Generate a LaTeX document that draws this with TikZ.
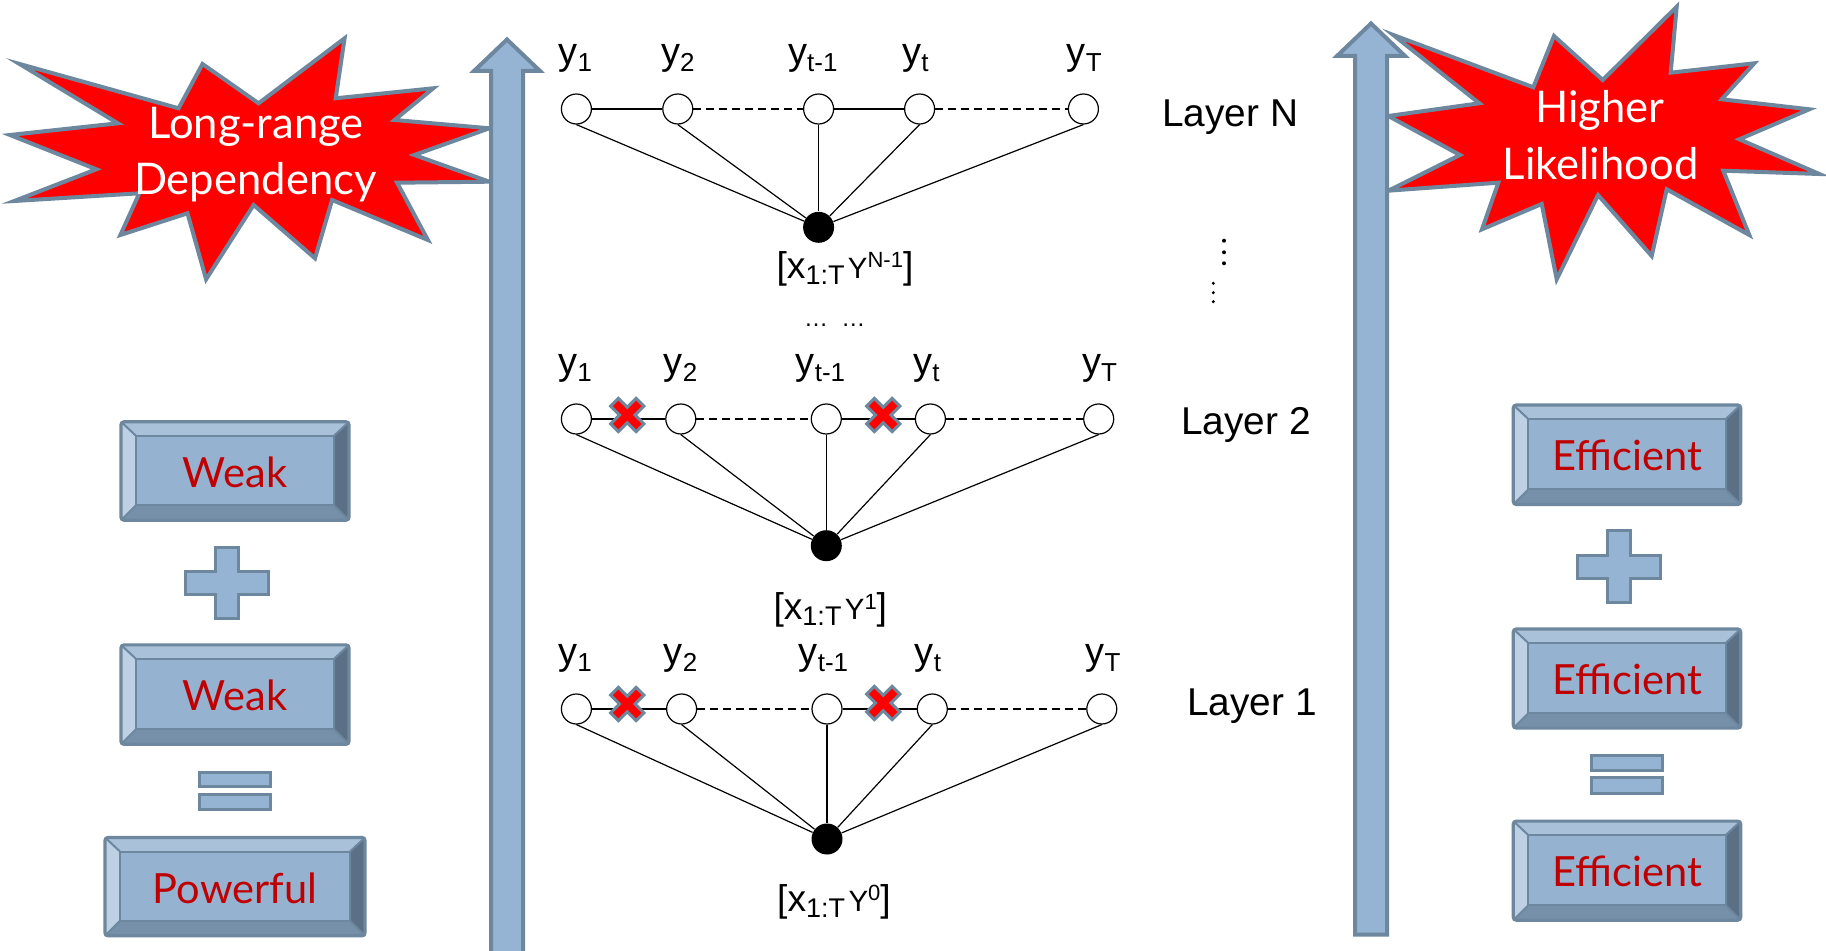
\documentclass[tikz,border=0pt]{standalone}
\usepackage{fontspec}
\setmainfont{Liberation Sans}
\newfontfamily\twfont{Lato}
\definecolor{arrfill}{HTML}{95B3D3}
\definecolor{arrline}{HTML}{6D879E}
\definecolor{bevc}{HTML}{95B3D0}
\definecolor{bevt}{HTML}{A9C2DA}
\definecolor{bevl}{HTML}{BED1E4}
\definecolor{bevr}{HTML}{5C7085}
\definecolor{bevb}{HTML}{7790A9}
\definecolor{txtred}{HTML}{C00000}
\newcommand{\ysub}[1]{y\raisebox{-3.5pt}{\fontsize{13}{13}\selectfont #1}}
\newcommand{\xlabtext}[1]{[x\raisebox{-2.8pt}{\fontsize{13.5}{13.5}\selectfont 1:T}\hspace{1.7pt}{\fontsize{14.7}{14.7}\selectfont Y}\raisebox{5.5pt}{\fontsize{11}{11}\selectfont #1}]}
\newcommand{\bevelbox}[6]{%
 \fill[bevc] (#1,#2) rectangle (#3,#4);
 \fill[bevt] (#1,#2) -- (#3,#2) -- ({#3-15},{#2+14}) -- ({#1+15},{#2+14}) -- cycle;
 \fill[bevb] (#1,#4) -- (#3,#4) -- ({#3-15},{#4-15}) -- ({#1+15},{#4-15}) -- cycle;
 \fill[bevl] (#1,#2) -- ({#1+15},{#2+14}) -- ({#1+15},{#4-15}) -- (#1,#4) -- cycle;
 \fill[bevr] (#3,#2) -- ({#3-15},{#2+14}) -- ({#3-15},{#4-15}) -- (#3,#4) -- cycle;
 \draw[bevedge] ({#1+15},{#2+14}) rectangle ({#3-15},{#4-15});
 \draw[bevedge] (#1,#2) -- ({#1+15},{#2+14}) (#3,#2) -- ({#3-15},{#2+14}) (#1,#4) -- ({#1+15},{#4-15}) (#3,#4) -- ({#3-15},{#4-15});
 \draw[bevouter] (#1,#2) rectangle (#3,#4);
 \node[boxtext] (#5) at ({(#1+#3)/2},{#2+65.5}) {#6};
}
\newcommand{\xmarkat}[2]{%
 \begin{scope}[shift={(#1,#2)}, rotate=45]
 \draw[xmark] (5.5,18) -- (5.5,5.5) -- (18,5.5) -- (18,-5.5) -- (5.5,-5.5) -- (5.5,-18) -- (-5.5,-18) -- (-5.5,-5.5) -- (-18,-5.5) -- (-18,5.5) -- (-5.5,5.5) -- (-5.5,18) -- cycle;
 \end{scope}
}
\tikzset{
 gnode/.style={circle, draw, line width=0.6pt, minimum size=15pt, inner sep=0pt, fill=white},
 xnode/.style={circle, fill=black, minimum size=15.5pt, inner sep=0pt},
 gline/.style={line width=0.6pt},
 gdash/.style={line width=0.6pt, dash pattern=on 4pt off 2.5pt},
 ylab/.style={anchor=base, inner sep=0pt, font=\fontsize{19}{21}\selectfont},
 xlab/.style={anchor=base, inner sep=0pt, font=\fontsize{18.6}{20}\selectfont},
 laylab/.style={anchor=base west, inner sep=0pt, font=\fontsize{19.4}{22}\selectfont},
 arrowbody/.style={fill=arrfill, draw=arrline, line width=2pt, line join=miter},
 burstshape/.style={fill=red, draw=arrline, line width=2pt, line join=miter},
 bursttext/.style={anchor=base, inner sep=0pt, text=white, font=\twfont\fontsize{21.8}{24}\selectfont},
 boxtext/.style={anchor=base, inner sep=0pt, text=txtred, font=\twfont\fontsize{20.8}{24}\selectfont},
 bevedge/.style={draw=arrline, line width=1pt},
 bevouter/.style={draw=arrline, line width=1.6pt, rounded corners=1.5pt},
 opshape/.style={fill=arrfill, draw=arrline, line width=1.5pt},
 xmark/.style={fill=red, draw=arrline, line width=1.5pt, line join=miter},
}
\begin{document}
\begin{tikzpicture}[x=0.5pt, y=-0.5pt]
\useasboundingbox (0,0) rectangle (1826,951);
\fill[white] (0,0) rectangle (1826,951);

% left burst
\draw[burstshape] (19.6,64) -- (178.6,108.3) -- (202.5,64) -- (258.6,103.3) -- (344.6,38.3) -- (335.7,98.3) -- (433.2,88.3) -- (394.6,120) -- (489.3,128.3) -- (414.3,155) -- (489.3,181.7) -- (397.1,182.7) -- (427.9,240) -- (332.1,200) -- (315,258.3) -- (253.6,205) -- (206.1,279.3) -- (187.5,213.3) -- (120.4,235) -- (139.3,193.3) -- (14.3,201) -- (96.4,169.3) -- (10,135) -- (117.9,123.3) -- cycle;
\node[bursttext] (lb1) at (256,138.3) {Long-range};
\node[bursttext] (lb2) at (255.4,195) {Dependency};

% right burst
\draw[burstshape] (1393.3,35) -- (1533.3,87.3) -- (1554,36) -- (1602.7,80) -- (1676.7,6.7) -- (1670.7,72.7) -- (1754.3,63.3) -- (1721.7,99.3) -- (1809.3,109.3) -- (1739.3,139.3) -- (1819.3,174) -- (1723.3,170.7) -- (1749.3,235) -- (1666.7,189.3) -- (1651.7,256) -- (1598,195) -- (1556.7,279.3) -- (1541.7,204) -- (1482,229.3) -- (1498.3,182.7) -- (1388.3,190.7) -- (1460,155) -- (1388.3,116) -- (1479.3,103.3) -- cycle;
\node[bursttext] (rb1) at (1600,122.7) {Higher};
\node[bursttext] (rb2) at (1600.5,180) {Likelihood};

% arrows
\draw[arrowbody] (491,965) -- (491,71) -- (474,71) -- (507,39.5) -- (540,71) -- (523,71) -- (523,965) -- cycle;
\draw[arrowbody] (1355,934.7) -- (1355,56) -- (1337,56) -- (1371,23.5) -- (1405,56) -- (1387,56) -- (1387,934.7) -- cycle;

% left column
\bevelbox{121}{421.8}{349}{520.2}{weakA}{Weak}
\draw[opshape] (215.5,547.3) -- (238.5,547.3) -- (238.5,571.9) -- (268.5,571.9) -- (268.5,594.2) -- (238.5,594.2) -- (238.5,618.8) -- (215.5,618.8) -- (215.5,594.2) -- (185.5,594.2) -- (185.5,571.9) -- (215.5,571.9) -- cycle;
\bevelbox{121}{644.9}{349}{744.3}{weakB}{Weak}
\draw[opshape] (199.2,772.2) rectangle (270.8,786.8);
\draw[opshape] (199.2,794.3) rectangle (270.8,809.6);
\bevelbox{105}{837.5}{365}{935.8}{powerful}{Powerful}

% right column
\bevelbox{1513.3}{405}{1740.7}{504.5}{effA}{Efficient}
\draw[opshape] (1607.5,531) -- (1630.8,531) -- (1630.8,555.4) -- (1660.8,555.4) -- (1660.8,578.1) -- (1630.8,578.1) -- (1630.8,602.5) -- (1607.5,602.5) -- (1607.5,578.1) -- (1577.5,578.1) -- (1577.5,555.4) -- (1607.5,555.4) -- cycle;
\bevelbox{1513.3}{629}{1740.7}{728.1}{effB}{Efficient}
\draw[opshape] (1591.5,755.7) rectangle (1662.5,770.6);
\draw[opshape] (1591.5,777.9) rectangle (1662.5,793.5);
\bevelbox{1513.3}{821.1}{1740.7}{920.2}{effC}{Efficient}

% Layer N
\node[gnode] (a1) at (576.4,109) {};
\node[gnode] (a2) at (677.8,109) {};
\node[gnode] (a3) at (818.6,109) {};
\node[gnode] (a4) at (919.6,109) {};
\node[gnode] (a5) at (1083.4,109) {};
\node[xnode] (ax) at (818.6,227.3) {};
\draw[gline] (a1) -- (a2);
\draw[gdash] (a2) -- (a3);
\draw[gline] (a3) -- (a4);
\draw[gdash] (a4) -- (a5);
\foreach \i in {1,...,5} \draw[gline] (a\i.south) -- (ax);
\node[ylab] (la1) at (575.4,65) {\ysub{1}};
\node[ylab] (la2) at (677.8,65) {\ysub{2}};
\node[ylab] (la3) at (812.9,65) {\ysub{t-1}};
\node[ylab] (la4) at (915.4,65) {\ysub{t}};
\node[ylab] (la5) at (1084.2,65) {\ysub{T}};
\node[xlab] (lax) at (845,279) {\xlabtext{N-1}};
\node[anchor=base, inner sep=0pt, font=\fontsize{12}{12}\selectfont] (dotsh) at (834.7,326.5) {…\ \ …};
\node[laylab] (layN) at (1162,126.7) {Layer N};
\fill (1224,240.7) circle[radius=2];
\fill (1224,252.3) circle[radius=2];
\fill (1224,263.3) circle[radius=2];
\fill (1213.3,283.3) circle[radius=1.7];
\fill (1213.3,292.7) circle[radius=1.7];
\fill (1213.3,301.7) circle[radius=1.7];

% Layer 2
\node[gnode] (b1) at (576.4,419) {};
\node[gnode] (b2) at (680.8,419) {};
\node[gnode] (b3) at (826.3,419) {};
\node[gnode] (b4) at (930.4,419) {};
\node[gnode] (b5) at (1098.7,419) {};
\node[xnode] (bx) at (826.3,545.7) {};
\draw[gline] (b1) -- (b2);
\draw[gdash] (b2) -- (b3);
\draw[gline] (b3) -- (b4);
\draw[gdash] (b4) -- (b5);
\foreach \i in {1,...,5} \draw[gline] (b\i.south) -- (bx);
\xmarkat{627.3}{415}
\xmarkat{883.3}{415}
\node[ylab] (lb1) at (575,375) {\ysub{1}};
\node[ylab] (lb2) at (680.6,375) {\ysub{2}};
\node[ylab] (lb3) at (820.5,375) {\ysub{t-1}};
\node[ylab] (lb4) at (926.5,375) {\ysub{t}};
\node[ylab] (lb5) at (1099.5,375) {\ysub{T}};
\node[xlab] (lbx) at (830.3,620) {\xlabtext{1}};
\node[laylab] (lay2) at (1181,435) {Layer 2};

% Layer 1
\node[gnode] (c1) at (576.4,709) {};
\node[gnode] (c2) at (681.6,709) {};
\node[gnode] (c3) at (827,709) {};
\node[gnode] (c4) at (932.3,709) {};
\node[gnode] (c5) at (1101.8,709) {};
\node[xnode] (cx) at (827,839) {};
\draw[gline] (c1) -- (c2);
\draw[gdash] (c2) -- (c3);
\draw[gline] (c3) -- (c4);
\draw[gdash] (c4) -- (c5);
\foreach \i in {1,...,5} \draw[gline] (c\i.south) -- (cx);
\xmarkat{627.3}{704}
\xmarkat{883.3}{703}
\node[ylab] (lc1) at (575,665) {\ysub{1}};
\node[ylab] (lc2) at (680.6,665) {\ysub{2}};
\node[ylab] (lc3) at (823.5,665) {\ysub{t-1}};
\node[ylab] (lc4) at (928,665) {\ysub{t}};
\node[ylab] (lc5) at (1103,665) {\ysub{T}};
\node[xlab] (lcx) at (834,911.7) {\xlabtext{0}};
\node[laylab] (lay1) at (1187,715.5) {Layer 1};
\end{tikzpicture}
\end{document}
